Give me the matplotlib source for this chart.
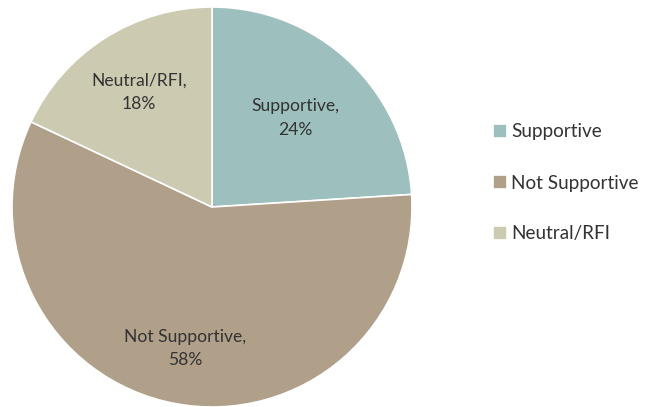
import numpy as np
import matplotlib.pyplot as plt

categories = ['Supportive', 'Not Supportive', 'Neutral/RFI']
shares = [24, 58, 18]
colors = ['#9DC0BE', '#B09F89', '#CCCAB0']
label_dist = [0.61, 0.72, 0.68]

plt.rcParams['font.family'] = ['Lato', 'DejaVu Sans']

fig = plt.figure(figsize=(6.45, 4.07), dpi=100)
ax = fig.add_axes([12 / 645, 0.0 / 407, 400 / 645, 400 / 407])

wedges, texts, autotexts = ax.pie(
    shares, colors=colors, startangle=90, counterclock=False,
    autopct='%1.0f%%', pctdistance=0.6,
    wedgeprops=dict(edgecolor='white', linewidth=1.2),
    textprops=dict(fontsize=12.6, color='#333333'))

for w, at, name, d in zip(wedges, autotexts, categories, label_dist):
    ang = np.deg2rad((w.theta1 + w.theta2) / 2)
    at.set_position((d * np.cos(ang), d * np.sin(ang)))
    at.set_text(f'{name},\n{at.get_text()}')
    at.set_ha('center')
    at.set_va('center')
    at.set_linespacing(1.55)

ax.set_xlim(-1, 1)
ax.set_ylim(-1, 1)
ax.set_aspect('equal')

fig.legend(wedges, categories, loc='center left', bbox_to_anchor=(476 / 645, 1 - 183 / 407),
           frameon=False, fontsize=13.6, handlelength=0.75, handleheight=0.75,
           handletextpad=0.2, labelspacing=1.8, labelcolor='#333333')

fig.savefig('out.png', dpi=100)
